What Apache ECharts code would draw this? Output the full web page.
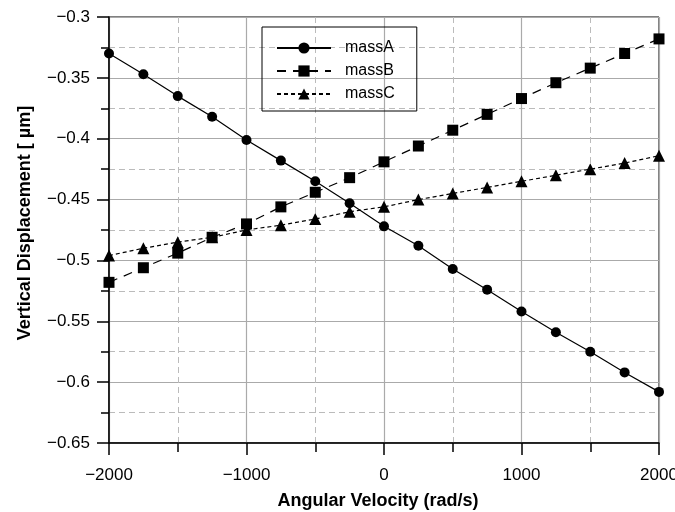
<!DOCTYPE html>
<html lang="en">
<head>
    <meta charset="UTF-8">
    <title>Vertical Displacement</title>
    <script src="https://cdn.jsdelivr.net/npm/echarts@6/dist/echarts.min.js"></script>
</head>
<body style="margin:0">
<div id="my" style="width: 675px;height: 512px;"></div>
<script>
    // angular velocity (rad/s)
    var speeds = [-2000, -1750, -1500, -1250, -1000, -750, -500, -250, 0, 250, 500, 750, 1000, 1250, 1500, 1750, 2000]
    var massA = [-0.330, -0.347, -0.365, -0.382, -0.401, -0.418, -0.435, -0.453, -0.472, -0.488, -0.507, -0.524, -0.542, -0.559, -0.575, -0.592, -0.608]
    var massB = [-0.518, -0.506, -0.494, -0.481, -0.470, -0.456, -0.444, -0.432, -0.419, -0.406, -0.393, -0.380, -0.367, -0.354, -0.342, -0.330, -0.318]
    var massC = [-0.496, -0.490, -0.485, -0.481, -0.475, -0.471, -0.466, -0.460, -0.456, -0.450, -0.445, -0.440, -0.435, -0.430, -0.425, -0.420, -0.414]

    function pairs(ys) {
        return speeds.map(function (x, i) { return [x, ys[i]] })
    }
    function minus(v) {
        return String(Number(v.toFixed(3))).replace('-', '\u2212')
    }

    var font = 'Liberation Sans'
    var mCharts = echarts.init(document.getElementById('my'))
    var option = {
        animation: false,
        backgroundColor: '#fff',
        textStyle: {fontFamily: font},
        grid: {
            left: 109, right: 16, top: 17, bottom: 69,
            outerBoundsMode: 'none',
            show: true, borderColor: '#000', borderWidth: 1
        },
        legend: {
            orient: 'vertical',
            left: 262, top: 27,
            padding: [13, 22, 9, 14],
            itemWidth: 54, itemHeight: 14, itemGap: 7,
            borderColor: '#000', borderWidth: 1,
            textStyle: {fontSize: 16, color: '#000', fontFamily: font, padding: [0, 0, 0, 9]},
            data: ['massA', 'massB', 'massC']
        },
        xAxis: {
            type: 'value',
            min: -2000, max: 2000, interval: 1000,
            name: 'Angular Velocity (rad/s)',
            nameLocation: 'middle', nameGap: 49,
            nameTextStyle: {fontSize: 18, fontWeight: 'bold', color: '#000', padding: [0, 12, 0, 0]},
            axisLine: {onZero: false, lineStyle: {color: '#000', width: 1.5}},
            axisTick: {show: true, length: 12, lineStyle: {color: '#000', width: 1.5}},
            minorTick: {show: true, splitNumber: 2, length: 9, lineStyle: {color: '#000', width: 1.5}},
            axisLabel: {fontSize: 17, color: '#000', margin: 24, formatter: minus},
            splitLine: {lineStyle: {color: '#aaa', width: 1.2}},
            minorSplitLine: {show: true, lineStyle: {color: '#bbb', type: [6, 4], width: 1}}
        },
        yAxis: {
            type: 'value',
            min: -0.65, max: -0.3, interval: 0.05,
            name: 'Vertical Displacement [ \u00b5m]',
            nameLocation: 'middle', nameGap: 75,
            nameTextStyle: {fontSize: 18, fontWeight: 'bold', color: '#000', padding: [0, 0, 0, 14]},
            axisLine: {onZero: false, lineStyle: {color: '#000', width: 1.5}},
            axisTick: {show: true, length: 12, lineStyle: {color: '#000', width: 1.5}},
            minorTick: {show: true, splitNumber: 2, length: 8, lineStyle: {color: '#000', width: 1.5}},
            axisLabel: {fontSize: 17, color: '#000', margin: 19, formatter: minus},
            splitLine: {lineStyle: {color: '#aaa', width: 1.2}},
            minorSplitLine: {show: true, lineStyle: {color: '#bbb', type: [6, 4], width: 1}}
        },
        series: [
            {
                name: 'massA', type: 'line', data: pairs(massA),
                symbol: 'circle', symbolSize: 10,
                itemStyle: {color: '#000'},
                lineStyle: {color: '#000', width: 1.2, type: 'solid'}
            },
            {
                name: 'massB', type: 'line', data: pairs(massB),
                symbol: 'rect', symbolSize: 11,
                itemStyle: {color: '#000'},
                lineStyle: {color: '#000', width: 1.2, type: [9, 7]}
            },
            {
                name: 'massC', type: 'line', data: pairs(massC),
                symbol: 'triangle', symbolSize: 12,
                itemStyle: {color: '#000'},
                lineStyle: {color: '#000', width: 1.2, type: [4, 3]}
            }
        ]
    }
    mCharts.setOption(option)
</script>
</body>
</html>
